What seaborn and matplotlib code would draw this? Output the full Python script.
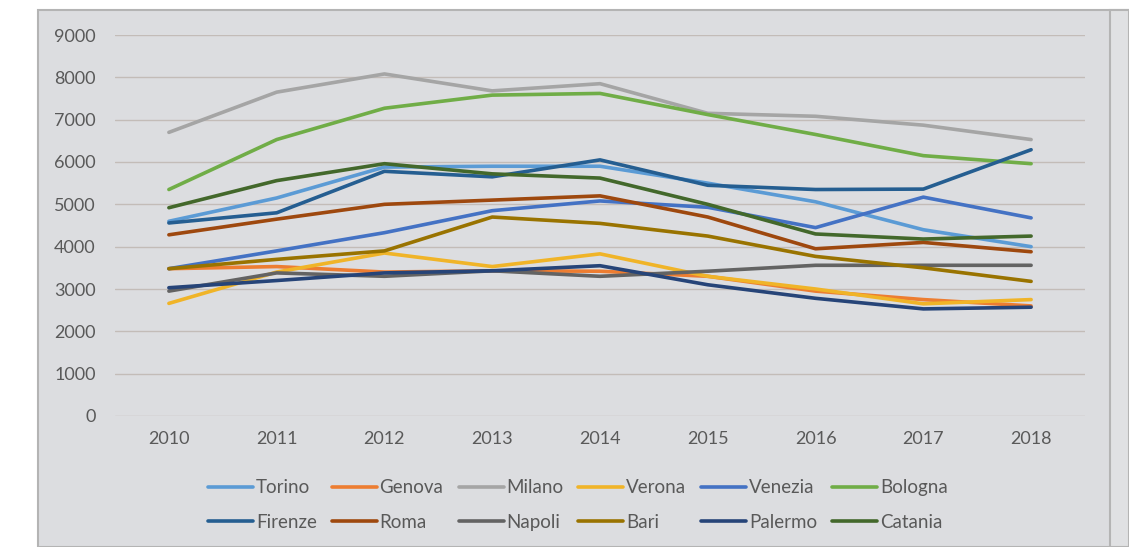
import pandas as pd
import numpy as np
import matplotlib.pyplot as plt
import seaborn as sns
from matplotlib.patches import Rectangle

# Valori (2010-2018)
anni = [2010, 2011, 2012, 2013, 2014, 2015, 2016, 2017, 2018]
citta = ["Torino", "Genova", "Milano", "Verona", "Venezia", "Bologna",
         "Firenze", "Roma", "Napoli", "Bari", "Palermo", "Catania"]

torino = [4600, 5150, 5880, 5900, 5900, 5500, 5060, 4400, 4000]
genova = [3480, 3530, 3400, 3430, 3420, 3300, 2950, 2750, 2600]
milano = [6700, 7650, 8080, 7680, 7850, 7150, 7080, 6870, 6530]
verona = [2660, 3400, 3850, 3530, 3830, 3300, 3000, 2650, 2750]
venezia = [3480, 3900, 4330, 4850, 5080, 4930, 4450, 5170, 4680]
bologna = [5350, 6530, 7270, 7580, 7620, 7120, 6650, 6150, 5960]
firenze = [4560, 4800, 5780, 5650, 6050, 5450, 5350, 5360, 6290]
roma = [4280, 4650, 5000, 5100, 5200, 4700, 3950, 4100, 3880]
napoli = [2950, 3380, 3300, 3430, 3300, 3420, 3560, 3560, 3560]
bari = [3480, 3700, 3900, 4700, 4550, 4250, 3770, 3500, 3180]
palermo = [3030, 3200, 3380, 3430, 3550, 3100, 2780, 2530, 2570]
catania = [4920, 5560, 5960, 5720, 5620, 5000, 4300, 4180, 4250]

colori = ["#5B9BD5", "#ED7D31", "#A5A5A5", "#F0B428", "#4472C4", "#70AD47",
          "#255E91", "#9E480E", "#636363", "#997300", "#264478", "#43682B"]

serie = [torino, genova, milano, verona, venezia, bologna,
         firenze, roma, napoli, bari, palermo, catania]

df = pd.DataFrame({
    "anno": anni * len(citta),
    "valore": [v for s in serie for v in s],
    "citta": [c for c in citta for _ in anni],
})

sns.set_style("white")
plt.rcParams["font.family"] = ["Lato", "DejaVu Sans"]

fig = plt.figure(figsize=(11.29, 5.47), dpi=100, facecolor="white")
# sfondo grigio del riquadro (come nello screenshot)
fig.patches.append(Rectangle((38 / 1129, 0), 1 - 38 / 1129, 1 - 10 / 547,
                             transform=fig.transFigure, facecolor="#dcdde0",
                             edgecolor="#b4b4b4", linewidth=1.5, zorder=-10))
fig.patches.append(Rectangle((1110 / 1129, 0), 19 / 1129, 1 - 10 / 547,
                             transform=fig.transFigure, facecolor="#e0e1e3",
                             edgecolor="#b4b4b4", linewidth=1.5, zorder=-9))

ax = fig.add_axes([115 / 1129, 1 - 416 / 547, 970 / 1129, 381 / 547])
ax.set_facecolor("none")

sns.lineplot(data=df, x="anno", y="valore", hue="citta", hue_order=citta,
             palette=colori, linewidth=2.6, ax=ax, legend=False)

ax.set_xlim(2009.5, 2018.5)
ax.set_ylim(0, 9000)
ax.set_yticks(np.arange(0, 9001, 1000))
ax.set_xticks(anni)
ax.set_xticklabels([str(a) for a in anni])
ax.set_xlabel("")
ax.set_ylabel("")
ax.grid(axis="y", color="#c3bcb8", linewidth=1)
ax.set_axisbelow(True)
for s in ax.spines.values():
    s.set_visible(False)
ax.tick_params(axis="both", length=0, labelsize=13, colors="#595959")
ax.tick_params(axis="y", pad=14)
ax.tick_params(axis="x", pad=11)

# legenda su due righe, ordinata per riga
ordine = [i + r * 6 for i in range(6) for r in range(2)]
handles = [plt.Line2D([], [], color=colori[i], linewidth=2.6) for i in ordine]
etichette = [citta[i] for i in ordine]
fig.legend(handles, etichette, loc="center", ncol=6, frameon=False,
           bbox_to_anchor=(578 / 1129, 1 - 505 / 547), fontsize=13.5,
           labelcolor="#595959", handlelength=2.4, handletextpad=0.15,
           columnspacing=0.8, labelspacing=0.95)

fig.savefig("out.png", dpi=100, facecolor=fig.get_facecolor())
